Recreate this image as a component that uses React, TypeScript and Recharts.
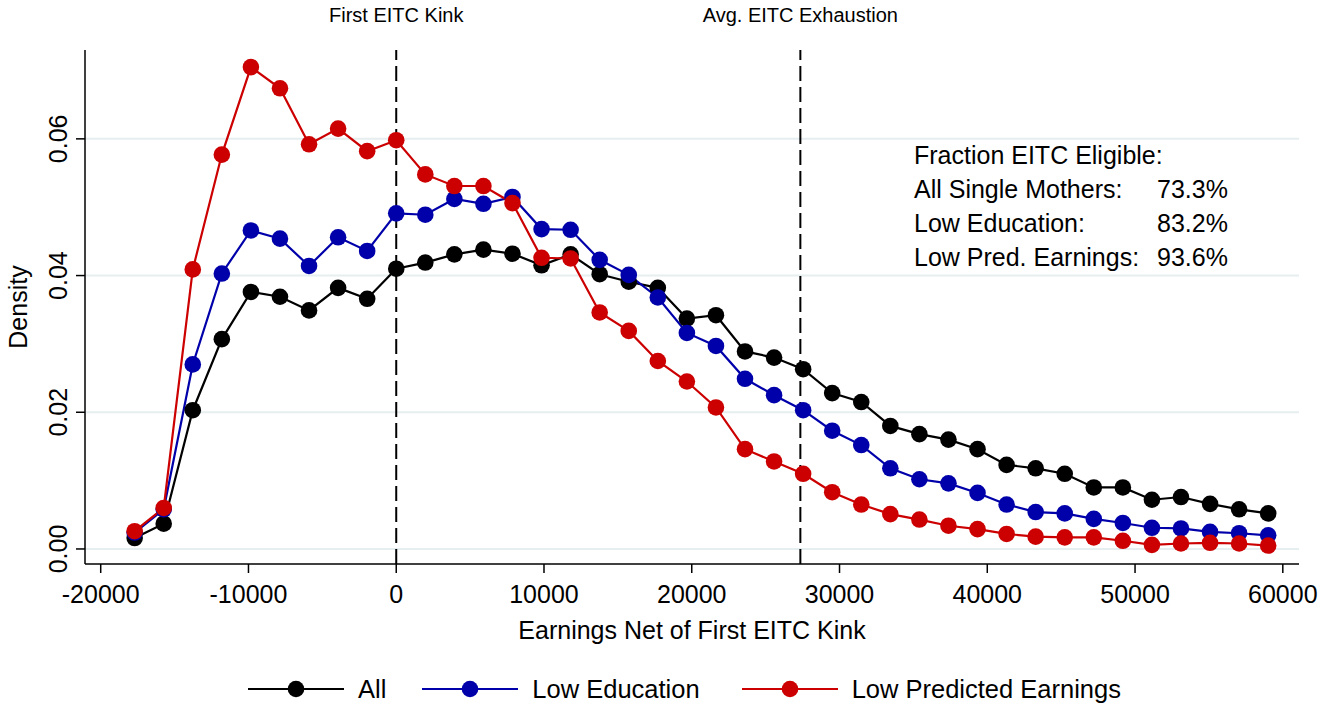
import React from 'react';
import {
  LineChart, Line, XAxis, YAxis, ReferenceLine,
} from 'recharts';

// bin midpoints, earnings net of first EITC kink
const earningsBins = [
  -17703, -15736, -13769, -11802, -9835, -7868, -5901, -3934, -1967, 0,
  1967, 3934, 5901, 7868, 9835, 11802, 13769, 15736, 17703, 19670,
  21637, 23604, 25571, 27538, 29505, 31472, 33439, 35406, 37373, 39340,
  41307, 43274, 45241, 47208, 49175, 51142, 53109, 55076, 57043, 59010,
];

const allDensity = [
  0.0016, 0.0037, 0.0203, 0.0307, 0.0376, 0.0369, 0.0349, 0.0382, 0.0366, 0.0410,
  0.0419, 0.0431, 0.0438, 0.0432, 0.0415, 0.0431, 0.0402, 0.0391, 0.0382, 0.0337,
  0.0342, 0.0289, 0.0280, 0.0263, 0.0228, 0.0215, 0.0180, 0.0168, 0.0160, 0.0146,
  0.0123, 0.0118, 0.0110, 0.0090, 0.0090, 0.0072, 0.0076, 0.0066, 0.0058, 0.0052,
];

const lowEducationDensity = [
  0.0024, 0.0058, 0.0270, 0.0403, 0.0466, 0.0454, 0.0414, 0.0456, 0.0436, 0.0491,
  0.0489, 0.0512, 0.0505, 0.0515, 0.0468, 0.0467, 0.0423, 0.0401, 0.0368, 0.0316,
  0.0297, 0.0249, 0.0225, 0.0203, 0.0173, 0.0152, 0.0118, 0.0102, 0.0096, 0.0082,
  0.0065, 0.0054, 0.0052, 0.0044, 0.0038, 0.0031, 0.0030, 0.0025, 0.0023, 0.0020,
];

const lowPredEarningsDensity = [
  0.0026, 0.0060, 0.0409, 0.0577, 0.0705, 0.0674, 0.0592, 0.0615, 0.0582, 0.0598,
  0.0548, 0.0531, 0.0531, 0.0506, 0.0426, 0.0425, 0.0346, 0.0319, 0.0275, 0.0245,
  0.0207, 0.0146, 0.0128, 0.0110, 0.0083, 0.0065, 0.0051, 0.0043, 0.0034, 0.0029,
  0.0022, 0.0018, 0.0017, 0.0017, 0.0012, 0.0006, 0.0008, 0.0009, 0.0008, 0.0005,
];

const xTicks = [-20000, -10000, 0, 10000, 20000, 30000, 40000, 50000, 60000];
const yTicks = [0, 0.02, 0.04, 0.06];

const firstKink = 0;
const avgExhaustion = 27350;

const eligibleRows = [
  { label: 'All Single Mothers:', value: '73.3%' },
  { label: 'Low Education:', value: '83.2%' },
  { label: 'Low Pred. Earnings:', value: '93.6%' },
];

const series = [
  { key: 'all', name: 'All', color: '#000000' },
  { key: 'lowEd', name: 'Low Education', color: '#0000aa' },
  { key: 'lowPred', name: 'Low Predicted Earnings', color: '#cc0000' },
];

const data = earningsBins.map((x, i) => ({
  x,
  all: allDensity[i],
  lowEd: lowEducationDensity[i],
  lowPred: lowPredEarningsDensity[i],
}));

const FONT = '"Liberation Sans", Arial, Helvetica, sans-serif';

const XTick = ({ x, payload }: any) => (
  <text x={x} y={603} textAnchor="middle" fontSize={25} fill="#000" fontFamily={FONT}>
    {payload.value}
  </text>
);

const YTick = ({ y, payload }: any) => {
  const bx = 67;
  return (
    <text
      x={bx}
      y={y}
      transform={`rotate(-90, ${bx}, ${y})`}
      textAnchor="middle"
      fontSize={25}
      fill="#000"
      fontFamily={FONT}
    >
      {Number(payload.value).toFixed(2)}
    </text>
  );
};

const YLabel = ({ viewBox }: any) => {
  const cx = 27;
  const cy = viewBox.y + viewBox.height / 2;
  return (
    <text x={cx} y={cy} transform={`rotate(-90, ${cx}, ${cy})`} textAnchor="middle"
      fontSize={25} fill="#000" fontFamily={FONT}>
      Density
    </text>
  );
};

export default function App() {
  return (
    <div style={{ position: 'absolute', left: 0, top: 0, width: 1322, height: 707, background: '#fff', fontFamily: FONT }}>
      <LineChart
        width={1322}
        height={707}
        data={data}
        margin={{ top: 50, right: 23, left: 0, bottom: 73 }}
      >
        {/* horizontal grid lines */}
        {yTicks.map((v) => (
          <ReferenceLine key={v} y={v} stroke="#e6eef0" strokeWidth={2} />
        ))}
        <XAxis
          dataKey="x"
          type="number"
          domain={[-21063, 61096]}
          ticks={xTicks}
          height={70}
          tick={<XTick />}
          tickSize={9}
          tickLine={{ stroke: '#000', strokeWidth: 1.5 }}
          axisLine={{ stroke: '#000', strokeWidth: 1.5 }}
          allowDataOverflow
          label={{ value: 'Earnings Net of First EITC Kink', position: 'insideBottom', offset: -5, fontSize: 25, fill: '#000' }}
        />
        <YAxis
          type="number"
          domain={[-0.0022, 0.073]}
          ticks={yTicks}
          width={85}
          tick={<YTick />}
          tickSize={9}
          tickLine={{ stroke: '#000', strokeWidth: 1.5 }}
          axisLine={{ stroke: '#000', strokeWidth: 1.5 }}
          allowDataOverflow
          label={<YLabel />}
        />
        <ReferenceLine
          x={firstKink}
          stroke="#000"
          strokeWidth={2}
          strokeDasharray="15 6"
          label={{ value: 'First EITC Kink', position: 'top', offset: 28, fontSize: 20, fill: '#000' }}
        />
        <ReferenceLine
          x={avgExhaustion}
          stroke="#000"
          strokeWidth={2}
          strokeDasharray="15 6"
          label={{ value: 'Avg. EITC Exhaustion', position: 'top', offset: 28, fontSize: 20, fill: '#000' }}
        />
        {series.map((s) => (
          <Line
            key={s.key}
            dataKey={s.key}
            name={s.name}
            type="linear"
            stroke={s.color}
            strokeWidth={2.2}
            dot={{ r: 8.3, fill: s.color, stroke: s.color, strokeWidth: 0 }}
            isAnimationActive={false}
          />
        ))}
      </LineChart>

      {/* annotation box */}
      <div style={{ position: 'absolute', left: 914, top: 138, fontSize: 25, lineHeight: '34px', color: '#000' }}>
        <div>Fraction EITC Eligible:</div>
        {eligibleRows.map((r) => (
          <div key={r.label} style={{ display: 'flex' }}>
            <span style={{ width: 243 }}>{r.label}</span>
            <span>{r.value}</span>
          </div>
        ))}
      </div>

      {/* legend */}
      <div style={{ position: 'absolute', left: 248, top: 674, display: 'flex', alignItems: 'center', fontSize: 25.5, color: '#000' }}>
        {series.map((s, i) => (
          <div key={s.key} style={{ display: 'flex', alignItems: 'center', marginRight: i === 0 ? 36 : 42 }}>
            <svg width={96} height={30}>
              <line x1={0} y1={15} x2={96} y2={15} stroke={s.color} strokeWidth={2.2} />
              <circle cx={48} cy={15} r={8.3} fill={s.color} />
            </svg>
            <span style={{ marginLeft: 14 }}>{s.name}</span>
          </div>
        ))}
      </div>
    </div>
  );
}
